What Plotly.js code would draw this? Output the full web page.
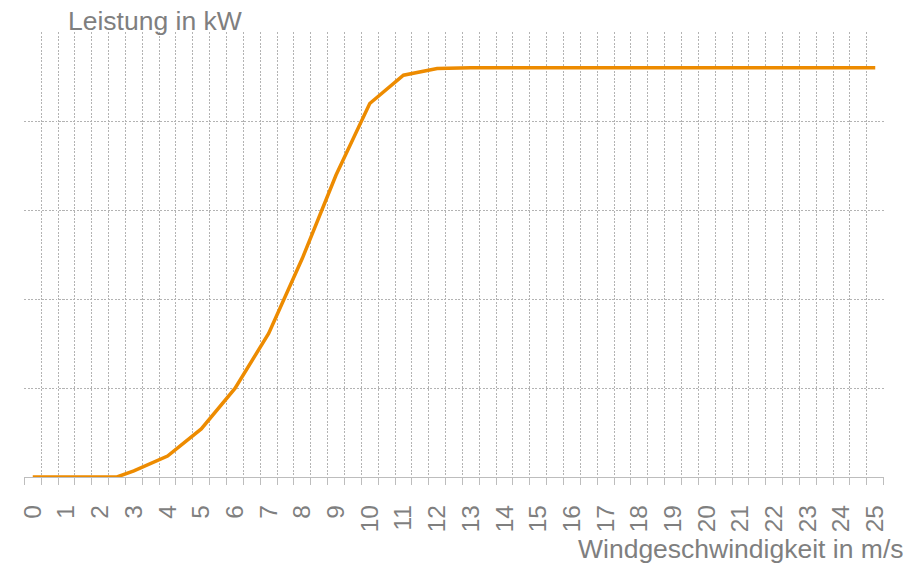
<!DOCTYPE html>
<html>
<head>
<meta charset="utf-8">
<script src="https://cdn.plot.ly/plotly-3.0.1.min.js"></script>
<style>
  html, body { margin: 0; padding: 0; background: #ffffff; }
  #chart { width: 916px; height: 563px; }
</style>
</head>
<body>
<div id="chart"></div>
<script>
// Wind speed in m/s
const windSpeed = [0, 1, 2, 2.5, 3, 4, 5, 6, 7, 8, 9, 10, 11, 12, 13, 14, 15, 16, 17, 18, 19, 20, 21, 22, 23, 24, 25];
// Power in kW
const power = [0, 0, 0, 0, 35, 118, 270, 498, 807, 1229, 1697, 2099, 2258, 2296, 2300, 2300, 2300, 2300, 2300, 2300, 2300, 2300, 2300, 2300, 2300, 2300, 2300];
// Tick labels
const tickValues = [0,1,2,3,4,5,6,7,8,9,10,11,12,13,14,15,16,17,18,19,20,21,22,23,24,25];
const tickLabels = tickValues.map(String);
const yTitle = "Leistung in kW";
const xTitle = "Windgeschwindigkeit in m/s";

const gray = "#7f7f7f";
const gridColor = "#b3b3b3";
const font = "Liberation Sans, Arial, sans-serif";

const trace = {
  x: windSpeed,
  y: power,
  type: "scatter",
  mode: "lines",
  line: { color: "#ed8b00", width: 3.5 },
  hoverinfo: "x+y"
};

const layout = {
  width: 916,
  height: 563,
  margin: { l: 24, r: 32, t: 32, b: 86 },
  paper_bgcolor: "#ffffff",
  plot_bgcolor: "#ffffff",
  showlegend: false,
  font: { family: font, color: gray },
  xaxis: {
    range: [-0.26, 25.26],
    tickmode: "array",
    tickvals: tickValues,
    ticktext: tickLabels,
    tickangle: -90,
    tickfont: { family: font, size: 24.5, color: gray },
    ticks: "outside",
    ticklen: 7,
    tickcolor: "rgba(0,0,0,0)",
    ticklabelstandoff: 10,
    showgrid: false,
    zeroline: false,
    showline: true,
    linecolor: "#bdbdbd",
    linewidth: 1.3,
    minor: {
      tickmode: "linear",
      tick0: -0.25,
      dtick: 0.5,
      ticks: "outside",
      ticklen: 7,
      tickcolor: "#bdbdbd",
      tickwidth: 1,
      showgrid: true,
      gridcolor: gridColor,
      gridwidth: 1,
      griddash: "2px,1.5px"
    },
    fixedrange: true
  },
  yaxis: {
    range: [0, 2501],
    tickmode: "linear",
    tick0: 0,
    dtick: 500,
    showticklabels: false,
    ticks: "",
    showgrid: true,
    gridcolor: gridColor,
    gridwidth: 1,
    griddash: "2px,1.5px",
    zeroline: false,
    showline: false,
    fixedrange: true
  },
  annotations: [
    {
      text: yTitle,
      xref: "paper", yref: "paper",
      x: (66 - 24) / 860, y: 1,
      xanchor: "left", yanchor: "bottom",
      yshift: -6,
      showarrow: false,
      font: { family: font, size: 26.5, color: gray }
    },
    {
      text: xTitle,
      xref: "paper", yref: "paper",
      x: (906 - 24) / 860, y: 0,
      xanchor: "right", yanchor: "top",
      yshift: -55,
      showarrow: false,
      font: { family: font, size: 26.5, color: gray }
    }
  ]
};

Plotly.newPlot("chart", [trace], layout, { staticPlot: true, displayModeBar: false });
</script>
</body>
</html>
